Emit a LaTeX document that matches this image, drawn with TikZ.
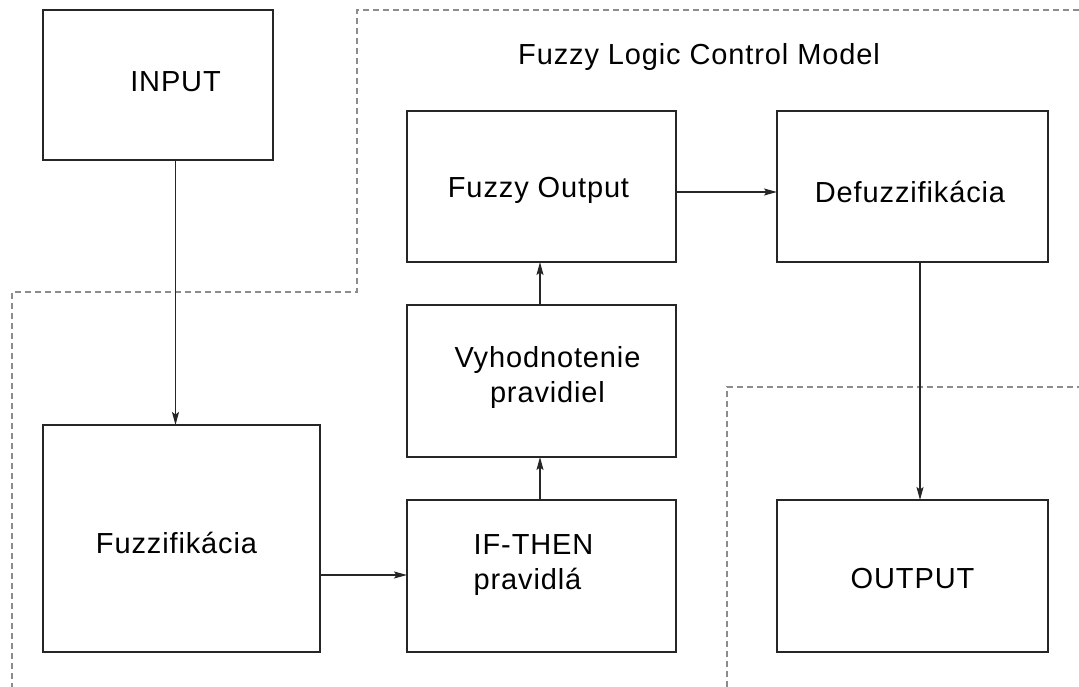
\documentclass[tikz,border=0pt]{standalone}
\usepackage{fontspec}
\setmainfont{Liberation Sans}[LetterSpace=3]
\usetikzlibrary{arrows.meta}
\begin{document}
\begin{tikzpicture}[x=1pt,y=-1pt,
  box/.style={draw=black!85, line width=1.4pt, minimum width=#1, inner sep=0pt, outer sep=0pt},
  box/.default=269pt,
  txt/.style={font=\fontsize{29}{35}\selectfont, inner sep=0pt, text=black},
  arr/.style={draw=black!85, line width=1.1pt, -{Stealth[length=13pt,width=7pt,inset=2.5pt]}},
  dashline/.style={draw=black!45, line width=1.3pt, dash pattern=on 6pt off 4pt}]
\useasboundingbox (0,0) rectangle (1079,687);
% dashed regions
\draw[dashline] (1079,10) -- (357,10) -- (357,292) -- (12,292) -- (12,687);
\draw[dashline] (727,687) -- (727,387) -- (1079,387);
% boxes
\node[box=230pt, minimum height=150pt] (input) at (158,85) {};
\node[box=277pt, minimum height=227pt] (fuzz) at (181.5,538.5) {};
\node[box, minimum height=152pt] (ifthen) at (541.5,576) {};
\node[box, minimum height=152pt] (vyhod) at (541.5,381) {};
\node[box, minimum height=151pt] (fout) at (541.5,186.5) {};
\node[box=271pt, minimum height=151pt] (defuzz) at (912.5,186.5) {};
\node[box=271pt, minimum height=152pt] (output) at (912.5,576) {};
% texts
\node[txt, anchor=base] (title) at (699,65) {Fuzzy Logic Control Model};
\node[txt, anchor=base] (tinput) at (175.5,92) {INPUT};
\node[txt, anchor=base] (tfuzz) at (176.5,553) {Fuzzifikácia};
\node[txt, align=left] (tifthen) at (533.5,565) {IF-THEN\\pravidlá};
\node[txt, align=center] (tvyhod) at (547.5,378) {Vyhodnotenie\\pravidiel};
\node[txt, anchor=base] (tfout) at (538.5,198) {Fuzzy Output};
\node[txt, anchor=base] (tdefuzz) at (910,203) {Defuzzifikácia};
\node[txt, anchor=base] (toutput) at (912.5,588) {OUTPUT};
% connectors
\draw[arr] (input.south -| tinput) -- (fuzz.north -| tinput);
\draw[arr] ([yshift=-36.5pt]fuzz.east) -- ([yshift=-36.5pt]fuzz.east -| ifthen.west);
\draw[arr] ([xshift=-1.5pt]ifthen.north) -- ([xshift=-1.5pt]vyhod.south);
\draw[arr] ([xshift=-1.5pt]vyhod.north) -- ([xshift=-1.5pt]fout.south);
\draw[arr] ([yshift=-5.5pt]fout.east) -- ([yshift=-5.5pt]fout.east -| defuzz.west);
\draw[arr] ([xshift=7.5pt]defuzz.south) -- ([xshift=7.5pt]defuzz.south |- output.north);
\end{tikzpicture}
\end{document}
